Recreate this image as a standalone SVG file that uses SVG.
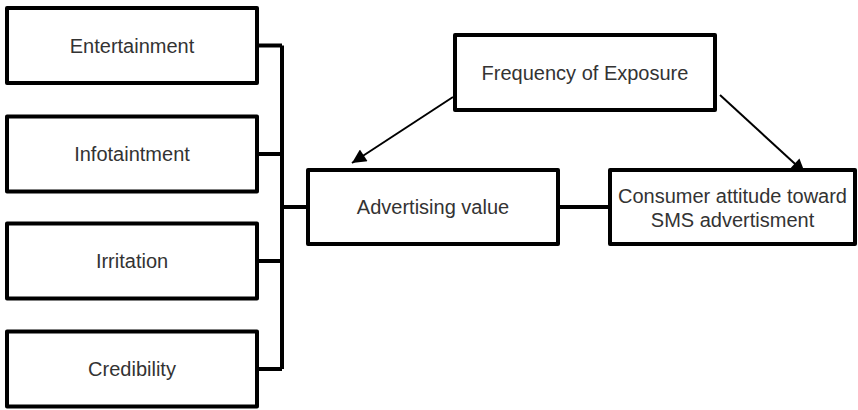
<svg xmlns="http://www.w3.org/2000/svg" width="858" height="410" viewBox="0 0 858 410">
<style>
.box{fill:#fff;stroke:#000;stroke-width:4;stroke-linejoin:round}
.lbl{font-family:"Liberation Sans",Arial,sans-serif;font-size:20px;fill:#333;text-anchor:middle}
.bus{fill:none;stroke:#000;stroke-width:4}
.arr{fill:none;stroke:#000;stroke-width:2}
</style>
<defs>
<marker id="ah" viewBox="0 0 10 10" refX="10" refY="5" markerWidth="8" markerHeight="7" markerUnits="strokeWidth" orient="auto">
<path d="M0,0 L10,5 L0,10 Z" fill="#000"/>
</marker>
</defs>
<rect width="858" height="410" fill="#fff"/>
<g id="connectors">
<path class="bus" d="M259,45.5 H282 M259,154 H282 M259,261 H282 M259,369 H282 M282,45.5 V369 M282,207 H306 M560,207 H608"/>
<line class="arr" x1="453" y1="97" x2="352" y2="163" marker-end="url(#ah)"/>
<line class="arr" x1="720" y1="95" x2="805" y2="173" marker-end="url(#ah)"/>
</g>
<g id="entertainment"><rect class="box" x="7" y="8" width="250" height="75"/><text class="lbl" x="132" y="53">Entertainment</text></g>
<g id="infotaintment"><rect class="box" x="7" y="116.5" width="250" height="75"/><text class="lbl" x="132" y="161">Infotaintment</text></g>
<g id="irritation"><rect class="box" x="7" y="223.5" width="250" height="75"/><text class="lbl" x="132" y="268">Irritation</text></g>
<g id="credibility"><rect class="box" x="7" y="331.5" width="250" height="75"/><text class="lbl" x="132" y="376">Credibility</text></g>
<g id="advertising-value"><rect class="box" x="308" y="170" width="250" height="74"/><text class="lbl" x="433" y="214">Advertising value</text></g>
<g id="frequency"><rect class="box" x="455" y="35" width="260" height="75"/><text class="lbl" x="585" y="80">Frequency of Exposure</text></g>
<g id="consumer-attitude"><rect class="box" x="610" y="170" width="245" height="74"/><text class="lbl" x="732.5" y="203">Consumer attitude toward</text><text class="lbl" x="732.5" y="227">SMS advertisment</text></g>
</svg>
